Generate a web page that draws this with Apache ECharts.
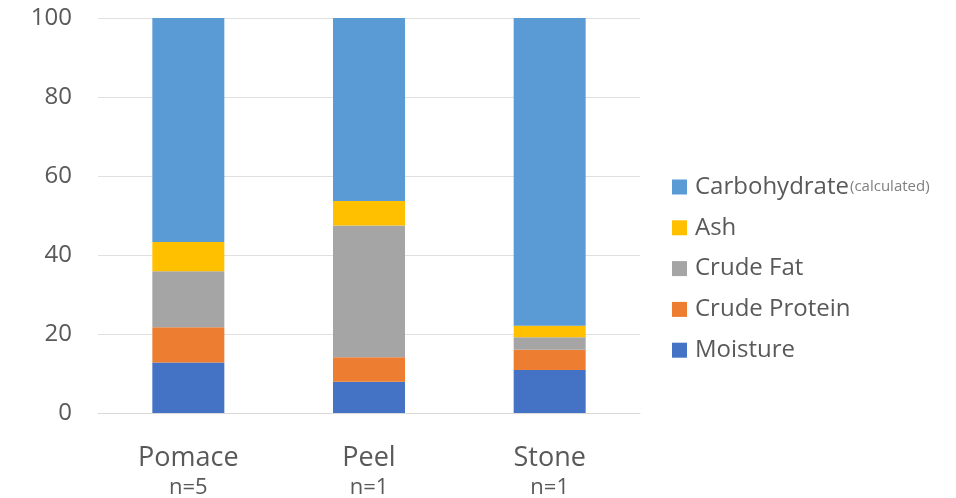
<!DOCTYPE html>
<html>
<head>
<meta charset="utf-8">
<script src="https://cdn.jsdelivr.net/npm/echarts@6/dist/echarts.min.js"></script>
<style>
html,body{margin:0;padding:0;background:#fff;}
#chart{width:956px;height:498px;}
</style>
</head>
<body>
<div id="chart"></div>
<script>
const categories = ['Pomace', 'Peel', 'Stone'];
const sampleCounts = ['n=5', 'n=1', 'n=1'];
const moisture = [12.8, 7.9, 10.9];
const crudeProtein = [8.9, 6.2, 5.1];
const crudeFat = [14.2, 33.4, 3.2];
const ash = [7.4, 6.2, 2.9];
const carbohydrate = [56.7, 46.3, 77.9];
const yTicks = [0, 20, 40, 60, 80, 100];

const FONT = '"Open Sans", "DejaVu Sans", sans-serif';
const TXT = '#595959';

const chart = echarts.init(document.getElementById('chart'), null, {renderer: 'canvas'});

function bar(name, data, color) {
  return {
    name: name,
    type: 'bar',
    stack: 'total',
    data: data,
    barWidth: 72,
    itemStyle: {color: color},
    emphasis: {disabled: true}
  };
}

const option = {
  animation: false,
  backgroundColor: '#ffffff',
  grid: {left: 98, right: 316, top: 18, bottom: 85, containLabel: false, outerBoundsMode: 'none'},
  legend: {
    orient: 'vertical',
    left: 667,
    top: 170,
    icon: 'rect',
    itemWidth: 15,
    itemHeight: 15,
    itemGap: 16.8,
    data: ['Carbohydrate', 'Ash', 'Crude Fat', 'Crude Protein', 'Moisture'],
    formatter: function (name) {
      if (name === 'Carbohydrate') return '{a|Carbohydrate}{b|(calculated)}';
      return '{a|' + name + '}';
    },
    textStyle: {
      color: TXT,
      fontFamily: FONT,
      fontSize: 24,
      padding: [0, 0, 0, 3],
      rich: {
        a: {fontSize: 24, lineHeight: 26, color: TXT, fontFamily: FONT},
        b: {fontSize: 15, lineHeight: 26, color: '#7f7f7f', fontFamily: FONT, padding: [0, 0, 0, 1]}
      }
    }
  },
  xAxis: {
    type: 'category',
    data: categories,
    axisLine: {show: true, lineStyle: {color: '#d9d9d9', width: 1}},
    axisTick: {show: false},
    axisLabel: {
      margin: 28,
      formatter: function (value, idx) {
        return '{a|' + value + '}\n{b|' + sampleCounts[idx] + '}';
      },
      rich: {
        a: {fontSize: 27, lineHeight: 34, color: TXT, fontFamily: FONT},
        b: {fontSize: 22, lineHeight: 26, color: TXT, fontFamily: FONT}
      }
    }
  },
  yAxis: {
    type: 'value',
    min: yTicks[0],
    max: yTicks[yTicks.length - 1],
    interval: 20,
    axisLine: {show: false},
    axisTick: {show: false},
    splitLine: {lineStyle: {color: '#e0e0e0', width: 1}},
    axisLabel: {margin: 26, color: TXT, fontSize: 24, fontFamily: FONT}
  },
  series: [
    bar('Moisture', moisture, '#4472C4'),
    bar('Crude Protein', crudeProtein, '#ED7D31'),
    bar('Crude Fat', crudeFat, '#A5A5A5'),
    bar('Ash', ash, '#FFC000'),
    bar('Carbohydrate', carbohydrate, '#5B9BD5')
  ]
};

chart.setOption(option);
</script>
</body>
</html>
